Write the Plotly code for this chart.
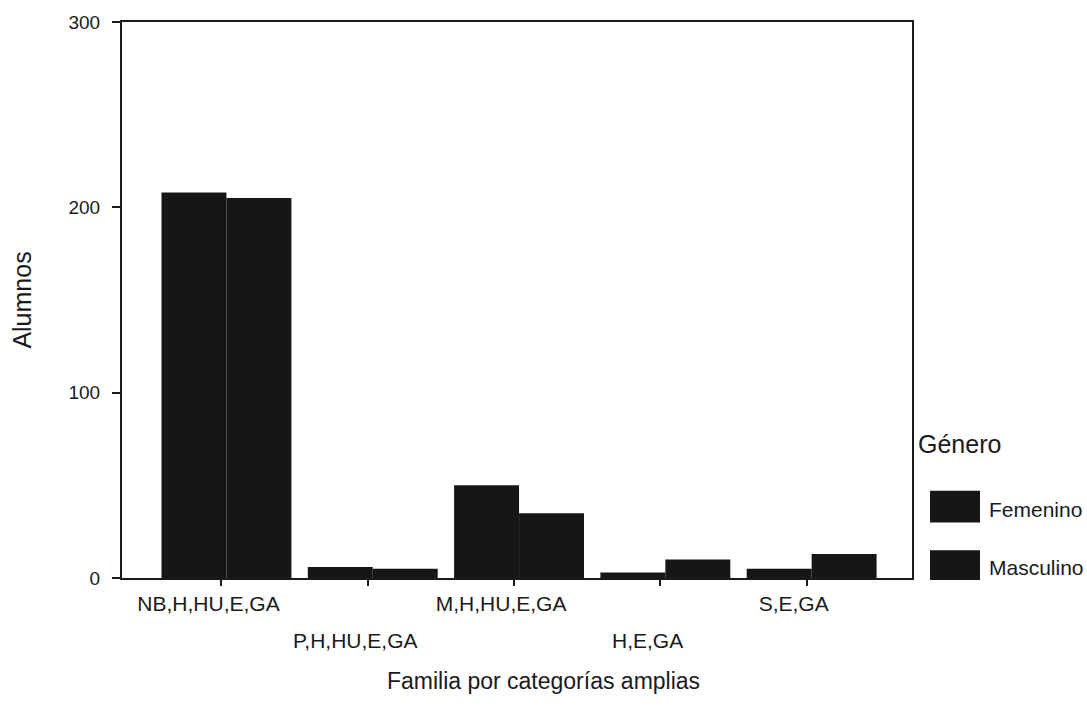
import plotly.graph_objects as go

categories = ["NB,H,HU,E,GA", "P,H,HU,E,GA", "M,H,HU,E,GA", "H,E,GA", "S,E,GA"]
femenino = [208, 6, 50, 3, 5]
masculino = [205, 5, 35, 10, 13]
series_names = ["Femenino", "Masculino"]
y_ticks = [0, 100, 200, 300]

BAR = "#161616"
INK = "#1a1a1a"
FONT = "Liberation Sans, Arial, sans-serif"

x_idx = list(range(len(categories)))
# first row of staggered labels on the axis, second row as annotations
row1_text = [c if i % 2 == 0 else "" for i, c in enumerate(categories)]

fig = go.Figure()
bar_width = 0.444
offsets = [-0.41, 0.034]
for name, vals, off in zip(series_names, [femenino, masculino], offsets):
    fig.add_trace(go.Bar(
        x=x_idx, y=vals, name=name,
        width=bar_width, offset=off,
        marker=dict(color=BAR, line=dict(width=0)),
        showlegend=False,
    ))

fig.update_layout(
    width=1087, height=722,
    margin=dict(l=122, r=175, t=17, b=144),
    paper_bgcolor="white", plot_bgcolor="white",
    barmode="overlay",
    font=dict(family=FONT, color=INK),
    title=dict(text="Familia por categorías amplias", font=dict(size=23, family=FONT, color=INK),
               xref="container", x=0.5, xanchor="center",
               yref="container", y=(722 - 681) / 722, yanchor="middle"),
    xaxis=dict(
        range=[-0.68, 4.72],
        tickmode="array", tickvals=x_idx, ticktext=row1_text,
        ticks="outside", ticklen=6, tickwidth=1.5, tickcolor=INK,
        tickfont=dict(size=21), ticklabelshift=-13,
        showline=True, linecolor=INK, linewidth=2, mirror=True,
        showgrid=False, zeroline=False,
    ),
    yaxis=dict(
        range=[0, 300],
        tickmode="array", tickvals=y_ticks,
        ticks="outside", ticklen=8, tickwidth=1.5, tickcolor=INK,
        tickfont=dict(size=19), ticklabelstandoff=8,
        showline=True, linecolor=INK, linewidth=2, mirror=True,
        showgrid=False, zeroline=False,
        title=dict(text="Alumnos", font=dict(size=25), standoff=30),
    ),
)

# second row of staggered category labels
for i, c in enumerate(categories):
    if i % 2 == 1:
        fig.add_annotation(xref="x", yref="paper", x=i, y=0, text=c,
                           showarrow=False, xanchor="center", yanchor="top",
                           xshift=-13, yshift=-49,
                           font=dict(size=21, family=FONT, color=INK))

# legend with large swatches
fig.add_annotation(xref="paper", yref="paper", x=1.005, y=0.2406, text="Género",
                   showarrow=False, xanchor="left", yanchor="middle",
                   font=dict(size=25, family=FONT, color=INK))
legend_rows = [(0.0998, 0.1569, 0.123), (-0.0036, 0.0499, 0.0196)]
for name, (y0, y1, yt) in zip(series_names, legend_rows):
    fig.add_shape(type="rect", xref="paper", yref="paper",
                  x0=1.0228, x1=1.0861, y0=y0, y1=y1,
                  fillcolor=BAR, line=dict(width=0))
    fig.add_annotation(xref="paper", yref="paper", x=1.0949, y=yt, text=name,
                       showarrow=False, xanchor="left", yanchor="middle",
                       font=dict(size=21, family=FONT, color=INK))

fig.write_html("out.html")
